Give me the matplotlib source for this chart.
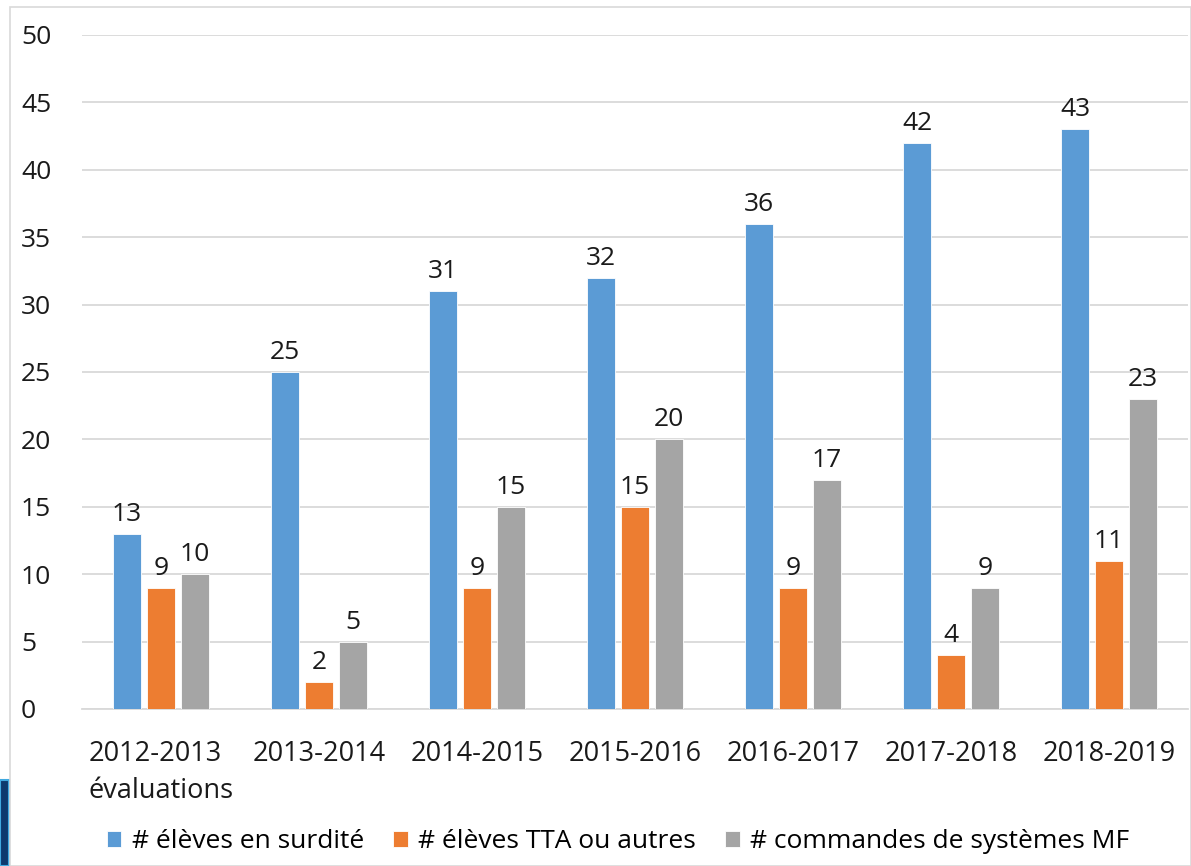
import numpy as np
import matplotlib
matplotlib.use('Agg')
import matplotlib.pyplot as plt
from matplotlib.patches import Rectangle

years = ['2012-2013\névaluations', '2013-2014', '2014-2015', '2015-2016',
         '2016-2017', '2017-2018', '2018-2019']
surdite = [13, 25, 31, 32, 36, 42, 43]
tta = [9, 2, 9, 15, 9, 4, 11]
commandes = [10, 5, 15, 20, 17, 9, 23]
series_labels = ['# élèves en surdité', '# élèves TTA ou autres', '# commandes de systèmes MF']
colors = ['#5b9bd5', '#ed7d31', '#a5a5a5']

plt.rcParams['font.family'] = ['Open Sans', 'DejaVu Sans']

fig = plt.figure(figsize=(11.91, 8.66), dpi=100)
# slide decoration at lower left and the chart frame
fig.patches.append(Rectangle((0, 0), 9 / 1191, 86 / 866, transform=fig.transFigure,
                             facecolor='#0d3a6e', edgecolor='#3fa9e0', linewidth=1.5))
fig.patches.append(Rectangle((10 / 1191, 0), 1 - 10 / 1191, 1 - 7 / 866,
                             transform=fig.transFigure, fill=False,
                             edgecolor='#d9d9d9', linewidth=1.2))
ax = fig.add_axes([82 / 1191, 1 - 709 / 866, (1188 - 82) / 1191, (709 - 35) / 866])

x = np.arange(len(years))
w = 0.177
off = 0.215
for i, (vals, lab, col) in enumerate(zip([surdite, tta, commandes], series_labels, colors)):
    bars = ax.bar(x + (i - 1) * off, vals, w, color=col, label=lab,
                  edgecolor='white', linewidth=0.6, zorder=3)
    ax.bar_label(bars, padding=5, fontsize=19, color='#1a1a1a')

ax.set_ylim(0, 50)
ax.set_xlim(-0.5, len(years) - 0.5)
ax.set_yticks(range(0, 51, 5))
ax.set_xticks(x)
ax.set_xticklabels(years, fontsize=19.5, color='#1a1a1a', linespacing=1.45)
ax.get_xticklabels()[0].set_multialignment('left')
ax.tick_params(axis='y', labelsize=19, colors='#1a1a1a', length=0, pad=44)
ax.tick_params(axis='x', length=0, pad=22)
for t in ax.get_yticklabels():
    t.set_horizontalalignment('left')
ax.grid(axis='y', color='#d9d9d9', linewidth=1.3, zorder=0)
for s in ['top', 'right', 'left']:
    ax.spines[s].set_visible(False)
ax.spines['bottom'].set_color('#d9d9d9')
ax.spines['bottom'].set_linewidth(1.3)

fig.legend(loc='center', bbox_to_anchor=(618 / 1191, 1 - 842 / 866), ncol=3,
           frameon=False, fontsize=19, handlelength=0.55, handleheight=0.55,
           handletextpad=0.4, columnspacing=1.1)

plt.savefig('out.png', dpi=100)
